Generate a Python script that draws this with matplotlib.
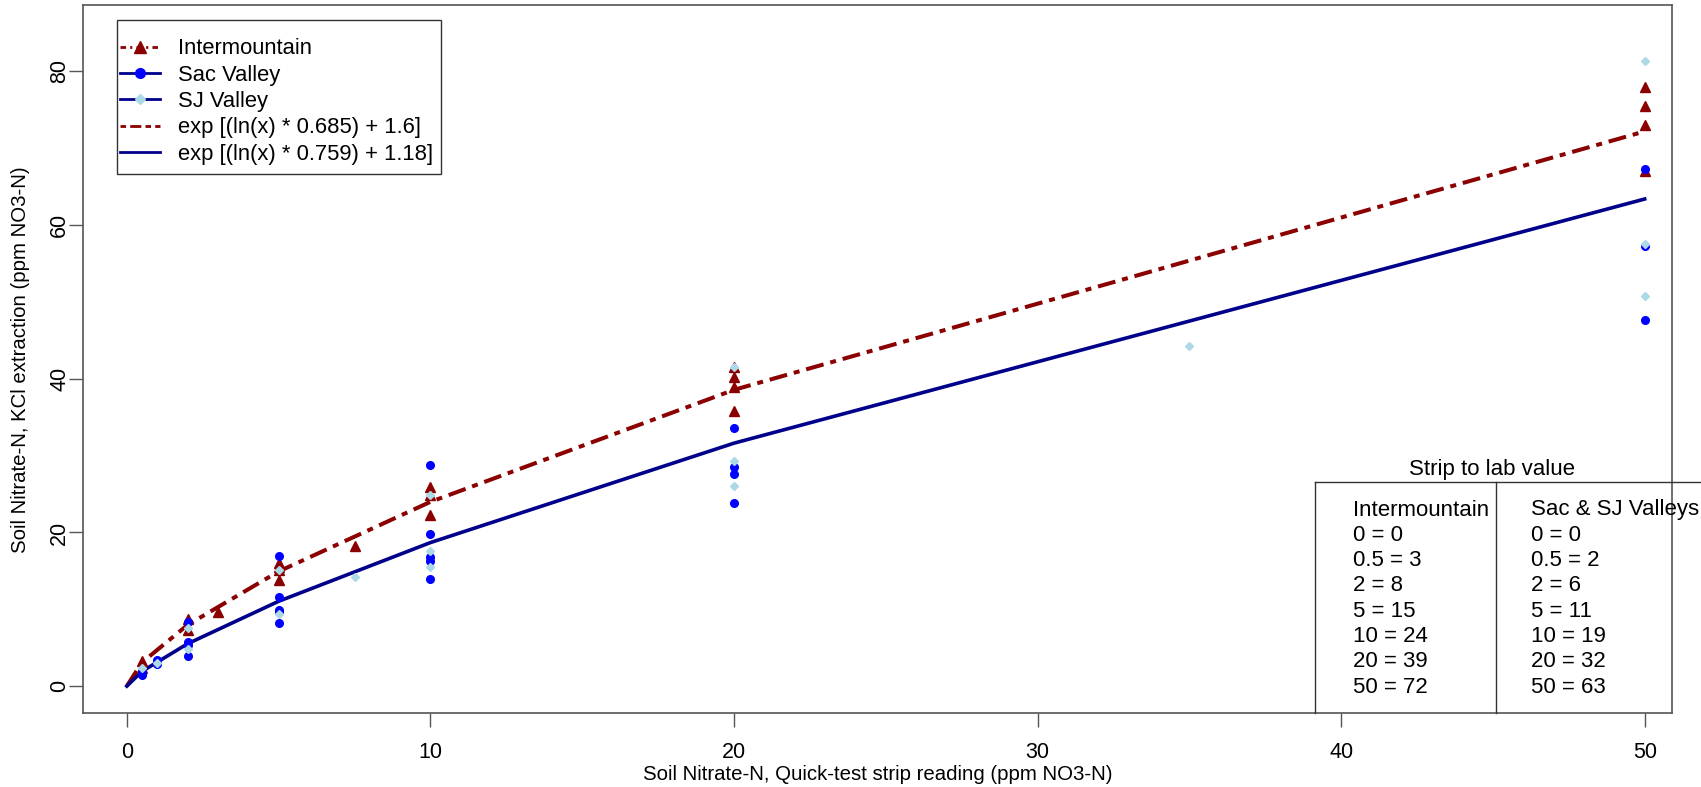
import matplotlib
matplotlib.use("Agg")
from matplotlib import pyplot as plt
from matplotlib.lines import Line2D
from matplotlib.patches import Rectangle

plt.rcParams['font.family'] = ['Liberation Sans', 'DejaVu Sans']
plt.rcParams['lines.scale_dashes'] = False

# scatter data
inter_x = [0.5, 0.5, 2, 2, 3, 5, 5, 5, 5, 7.5, 10, 10, 10, 20, 20, 20, 20, 50, 50, 50, 50]
inter_y = [3.3, 2.4, 8.7, 7.3, 9.7, 16.0, 15.5, 15.1, 13.8, 18.3, 25.9, 24.9, 22.3,
           41.5, 40.2, 38.9, 35.8, 78.0, 75.5, 73.0, 67.0]

sac_x = [0.5, 0.5, 1, 1, 2, 2, 2, 2, 5, 5, 5, 5, 5, 10, 10, 10, 10, 10, 20, 20, 20, 20, 50, 50, 50]
sac_y = [1.9, 1.4, 3.4, 2.9, 8.4, 5.8, 5.4, 3.9, 16.9, 11.6, 9.9, 9.6, 8.2,
         28.8, 19.8, 16.8, 16.3, 14.0, 33.6, 28.5, 27.6, 23.8, 67.3, 57.3, 47.7]

sj_x = [0.5, 1, 2, 2, 5, 5, 7.5, 10, 10, 10, 20, 20, 20, 35, 50, 50, 50]
sj_y = [2.3, 3.0, 7.5, 4.8, 15.1, 9.4, 14.2, 24.9, 17.6, 15.5, 41.5, 29.3, 26.0, 44.3, 81.3, 57.5, 50.8]

# fitted curves at the strip readings
fit_x = [0, 0.5, 2, 5, 10, 20, 50]
inter_fit = [0, 3.08, 7.96, 14.92, 23.98, 38.56, 72.2]
valley_fit = [0, 1.92, 5.51, 11.04, 18.68, 31.62, 63.4]

# strip to lab table
strip = ['0', '0.5', '2', '5', '10', '20', '50']
inter_lab = [0, 3, 8, 15, 24, 39, 72]
valley_lab = [0, 2, 6, 11, 19, 32, 63]

W, H = 1701, 787
fig = plt.figure(figsize=(W / 100, H / 100), dpi=100)

def fx(px):
    return px / W

def fy(py):
    return 1 - py / H

ax_l, ax_r, ax_t, ax_b = 82.5, 1672, 5.4, 713
ax = fig.add_axes([fx(ax_l), fy(ax_b), fx(ax_r) - fx(ax_l), fy(ax_t) - fy(ax_b)])
ax.set_xlim(-1.46, 50.9)
ax.set_ylim(-3.5, 88.6)

red = '#8B0000'
navy = '#00008B'

ax.plot(fit_x, inter_fit, color=red, lw=2.9, dashes=(13, 5, 4.3, 5), zorder=2)
ax.plot(fit_x, valley_fit, color=navy, lw=2.6, zorder=2)

ax.plot(inter_x, inter_y, ls='none', marker='^', ms=7.5, color=red, mec=red, zorder=3)
ax.plot(sac_x, sac_y, ls='none', marker='o', ms=5.5, color='#0000FF', mec='#0000FF', zorder=4)
ax.plot(sj_x, sj_y, ls='none', marker='D', ms=4.2, color='#ADD8E6', mec='#ADD8E6', zorder=5)

for s in ax.spines.values():
    s.set_color('#555555')
    s.set_linewidth(1.2)

ax.set_xticks([0, 10, 20, 30, 40, 50])
ax.set_yticks([0, 20, 40, 60, 80])
ax.tick_params(direction='out', length=10, width=1, color='#555555', labelsize=15.5)
ax.tick_params(axis='x', pad=11)
ax.tick_params(axis='y', pad=6.5, labelrotation=90)
plt.setp(ax.get_yticklabels(), ha='center', va='center')

ax.set_xlabel('Soil Nitrate-N, Quick-test strip reading (ppm NO3-N)', fontsize=14.7)
ax.xaxis.set_label_coords(0.5, (ax_b - 775) / (ax_b - ax_t))
ax.xaxis.label.set_va('center')
ax.set_ylabel('Soil Nitrate-N, KCl extraction (ppm NO3-N)', fontsize=14.7)
ax.yaxis.set_label_coords((20.5 - ax_l) / (ax_r - ax_l), 0.5)
ax.yaxis.label.set_va('center')

handles = [
    Line2D([], [], color=red, lw=2, dashes=(4, 3, 1.5, 3), marker='^', ms=8),
    Line2D([], [], color=navy, lw=2, marker='o', mfc='#0000FF', mec='#0000FF', ms=7),
    Line2D([], [], color=navy, lw=2, marker='D', mfc='#ADD8E6', mec='#ADD8E6', ms=5),
    Line2D([], [], color=red, lw=2, dashes=(4, 3, 8, 3)),
    Line2D([], [], color=navy, lw=2),
]
labels = ['Intermountain', 'Sac Valley', 'SJ Valley',
          'exp [(ln(x) * 0.685) + 1.6]', 'exp [(ln(x) * 0.759) + 1.18]']
leg = ax.legend(handles, labels, loc='upper left', bbox_to_anchor=(fx(120), fy(38.5)),
                bbox_transform=fig.transFigure, fontsize=15.8, frameon=False,
                borderaxespad=0, borderpad=0, labelspacing=0.24,
                handlelength=1.8, handletextpad=0.85)
# legend frame
fig.add_artist(Rectangle((fx(117.2), fy(173.7)), fx(440.5) - fx(117.2), fy(19.5) - fy(173.7),
                         transform=fig.transFigure, fill=False, ec='#333333', lw=1.0))

# table drawn in figure pixels
tcol = '#333333'
fig.add_artist(Line2D([fx(1315), fx(1701)], [fy(482.3), fy(482.3)], color=tcol, lw=1))
fig.add_artist(Line2D([fx(1315), fx(1315)], [fy(482.3), fy(713)], color=tcol, lw=1))
fig.add_artist(Line2D([fx(1495.7), fx(1495.7)], [fy(482.3), fy(713)], color=tcol, lw=1))
fig.text(fx(1491.7), fy(470), 'Strip to lab value', ha='center', va='center', fontsize=16)

row0 = 510
step = 25.3
fig.text(fx(1353), fy(row0), 'Intermountain', ha='left', va='center', fontsize=16)
fig.text(fx(1531), fy(row0), 'Sac & SJ Valleys', ha='left', va='center', fontsize=16)
for i in range(len(strip)):
    yy = fy(row0 + step * (i + 1))
    fig.text(fx(1353), yy, f'{strip[i]} = {inter_lab[i]}', ha='left', va='center', fontsize=16)
    fig.text(fx(1531), yy, f'{strip[i]} = {valley_lab[i]}', ha='left', va='center', fontsize=16)

fig.savefig('out.png', dpi=100)
